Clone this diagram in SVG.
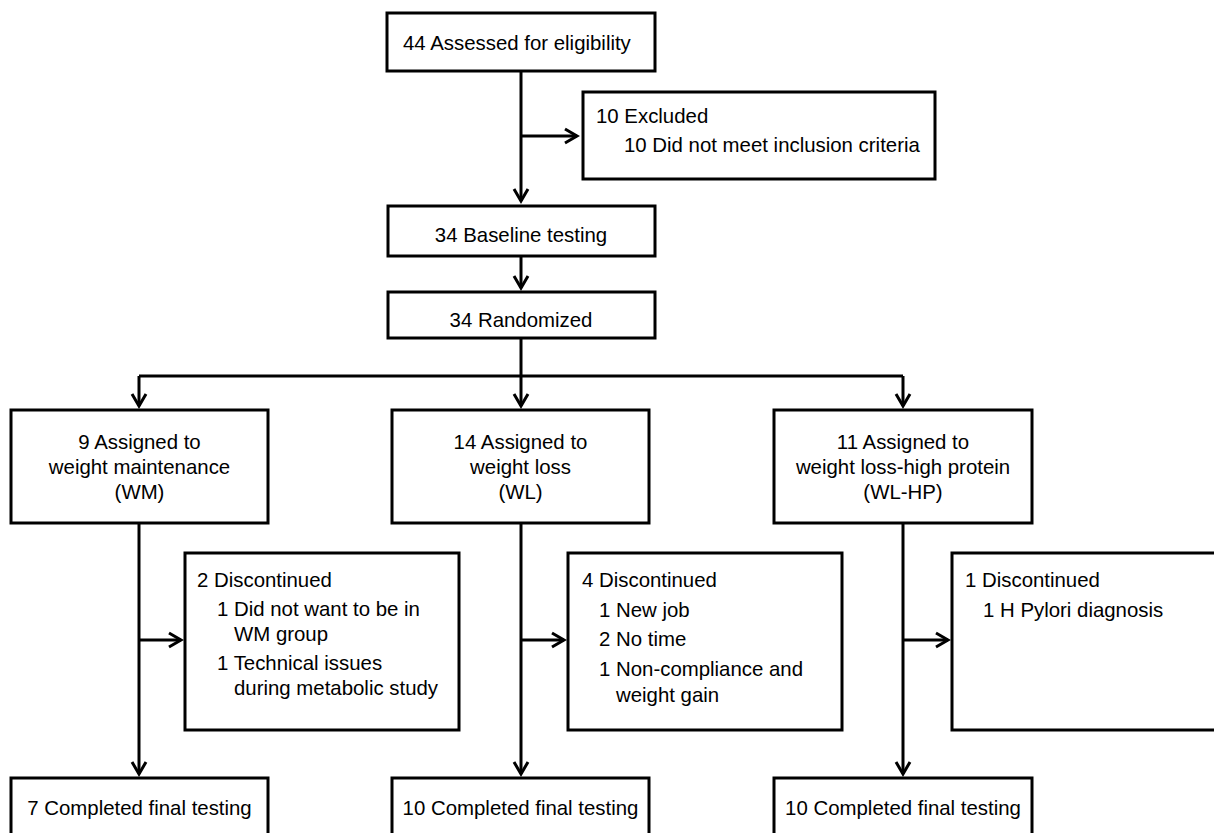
<svg xmlns="http://www.w3.org/2000/svg" width="1214" height="833" viewBox="0 0 1214 833">
<defs>
<style>
.box{fill:#fff;stroke:#000;stroke-width:3}
.ln{fill:none;stroke:#000;stroke-width:3}
text{font-family:"Liberation Sans",Arial,sans-serif;font-size:20.4px;fill:#000}
.c{text-anchor:middle}
</style>
<marker id="ah" markerUnits="userSpaceOnUse" markerWidth="20" markerHeight="20" viewBox="-14 -10 16 20" refX="0" refY="0" orient="auto">
<path d="M-12,-7 L0,0 L-12,7" fill="none" stroke="#000" stroke-width="3"/>
</marker>
</defs>
<rect width="1214" height="833" fill="#fff"/>
<g id="connectors">
<line class="ln" x1="521" y1="71" x2="521" y2="201" marker-end="url(#ah)"/>
<line class="ln" x1="521" y1="136" x2="577" y2="136" marker-end="url(#ah)"/>
<line class="ln" x1="521" y1="256" x2="521" y2="288" marker-end="url(#ah)"/>
<polyline class="ln" points="521,338 521,376"/>
<polyline class="ln" points="139,376 903,376"/>
<line class="ln" x1="139" y1="376" x2="139" y2="406" marker-end="url(#ah)"/>
<line class="ln" x1="521" y1="376" x2="521" y2="406" marker-end="url(#ah)"/>
<line class="ln" x1="903" y1="376" x2="903" y2="406" marker-end="url(#ah)"/>
<line class="ln" x1="139" y1="523" x2="139" y2="774" marker-end="url(#ah)"/>
<line class="ln" x1="521" y1="523" x2="521" y2="774" marker-end="url(#ah)"/>
<line class="ln" x1="903" y1="523" x2="903" y2="774" marker-end="url(#ah)"/>
<line class="ln" x1="139" y1="640" x2="181" y2="640" marker-end="url(#ah)"/>
<line class="ln" x1="521" y1="640" x2="564" y2="640" marker-end="url(#ah)"/>
<line class="ln" x1="903" y1="640" x2="948" y2="640" marker-end="url(#ah)"/>
</g>
<g id="assessed">
<rect class="box" x="387" y="13" width="268" height="58"/>
<text x="403" y="50">44 Assessed for eligibility</text>
</g>
<g id="excluded">
<rect class="box" x="583" y="92" width="352" height="87"/>
<text x="596" y="123">10 Excluded</text>
<text x="624" y="152">10 Did not meet inclusion criteria</text>
</g>
<g id="baseline">
<rect class="box" x="388" y="206" width="267" height="50"/>
<text class="c" x="521" y="242">34 Baseline testing</text>
</g>
<g id="randomized">
<rect class="box" x="388" y="292" width="267" height="46"/>
<text class="c" x="521" y="327">34 Randomized</text>
</g>
<g id="assigned-wm">
<rect class="box" x="11" y="410" width="257" height="113"/>
<text class="c" x="139.5" y="449">9 Assigned to</text>
<text class="c" x="139.5" y="474">weight maintenance</text>
<text class="c" x="139.5" y="499">(WM)</text>
</g>
<g id="assigned-wl">
<rect class="box" x="392" y="410" width="257" height="113"/>
<text class="c" x="520.5" y="449">14 Assigned to</text>
<text class="c" x="520.5" y="474">weight loss</text>
<text class="c" x="520.5" y="499">(WL)</text>
</g>
<g id="assigned-wlhp">
<rect class="box" x="774" y="410" width="258" height="113"/>
<text class="c" x="903" y="449">11 Assigned to</text>
<text class="c" x="903" y="474">weight loss-high protein</text>
<text class="c" x="903" y="499">(WL-HP)</text>
</g>
<g id="disc-wm">
<rect class="box" x="185" y="553" width="274" height="177"/>
<text x="197" y="587">2 Discontinued</text>
<text x="217" y="616">1 Did not want to be in</text>
<text x="234" y="641">WM group</text>
<text x="217" y="670">1 Technical issues</text>
<text x="234" y="695">during metabolic study</text>
</g>
<g id="disc-wl">
<rect class="box" x="568" y="553" width="274" height="177"/>
<text x="582" y="587">4 Discontinued</text>
<text x="599" y="617">1 New job</text>
<text x="599" y="646">2 No time</text>
<text x="599" y="676">1 Non-compliance and</text>
<text x="616" y="702">weight gain</text>
</g>
<g id="disc-wlhp">
<rect class="box" x="952" y="553" width="275" height="177"/>
<text x="965" y="587">1 Discontinued</text>
<text x="983" y="617">1 H Pylori diagnosis</text>
</g>
<g id="final-wm">
<rect class="box" x="11" y="778" width="257" height="70"/>
<text class="c" x="139.5" y="815">7 Completed final testing</text>
</g>
<g id="final-wl">
<rect class="box" x="392" y="778" width="257" height="70"/>
<text class="c" x="520.5" y="815">10 Completed final testing</text>
</g>
<g id="final-wlhp">
<rect class="box" x="774" y="778" width="258" height="70"/>
<text class="c" x="903" y="815">10 Completed final testing</text>
</g>
</svg>
